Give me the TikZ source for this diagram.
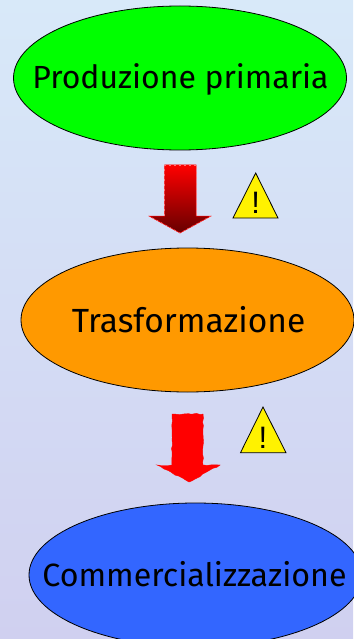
\documentclass[tikz,border=0pt]{standalone}
\usepackage{fontspec}
\setmainfont{Fira Sans}
\newfontfamily\markfont{Liberation Sans}
\usetikzlibrary{shapes.geometric,calc,decorations.pathmorphing}
\definecolor{bgtop}{RGB}{216,233,249}
\definecolor{bgbot}{RGB}{208,208,240}
\definecolor{grn}{RGB}{0,255,0}
\definecolor{org}{RGB}{255,153,0}
\definecolor{blu}{RGB}{51,102,255}
\tikzset{
 stage/.style={ellipse,draw=black,line width=0.8pt,minimum width=333pt,minimum height=144pt,inner sep=0pt},
 stagetext/.style={anchor=base,inner sep=0pt,text=black,font=\fontsize{#1}{36}\selectfont},
 warn/.style={draw=black,line width=0.8pt,fill=yellow,line join=miter},
 warnmark/.style={anchor=base,font=\markfont\fontsize{31}{34}\selectfont,text=black,inner sep=0pt},
 edgedash/.style={draw=white!45!red,line width=0.5pt,dash pattern=on 2pt off 3pt}
}
\begin{document}
\begin{tikzpicture}[x=1pt,y=-1pt]
\useasboundingbox (0,0) rectangle (353,639);
\shade[top color=bgtop,bottom color=bgbot] (0,0) rectangle (353,639);
\node[stage,fill=grn] (p) at (180,78) {};
\node[stagetext=32] (pt) at (180.5,89) {Produzione primaria};
\node[stage,fill=org] (t) at (187.5,320) {};
\node[stagetext=33.5] (tt) at (188.5,332) {Trasformazione};
\node[stage,fill=blu] (c) at (195.5,575) {};
\node[stagetext=32.2] (ct) at (194.5,586) {Commercializzazione};
\shade[top color=red,bottom color=red!40!black,draw=none] (164.5,165) -- (196,165) -- (196,216) -- (211,216) -- (180,233) -- (149,216) -- (164.5,216) -- cycle;
\draw[red,line width=0.5pt] (164.5,216) -- (164.5,165) -- (196,165) -- (196,216) -- (211,216) -- (180,233) -- (149,216) -- cycle;
\draw[edgedash] (164.5,216) -- (164.5,165) -- (196,165) -- (196,216);
\draw[edgedash] (211,216) -- (180,233) -- (149,216);
\fill[red,draw=red,line width=0.4pt,decorate,decoration={random steps,segment length=4pt,amplitude=0.6pt}]
 (172,414) -- (203,414) -- (203,465) -- (220,465) -- (189,482) -- (157,465) -- (172,465) -- cycle;
\draw[warn] (255.7,173) -- (278,218) -- (233,218) -- cycle;
\node[warnmark] (w1) at (255.7,213) {!};
\draw[warn] (263,407) -- (286,452.7) -- (240.5,452.7) -- cycle;
\node[warnmark] (w2) at (263,448) {!};
\end{tikzpicture}
\end{document}
